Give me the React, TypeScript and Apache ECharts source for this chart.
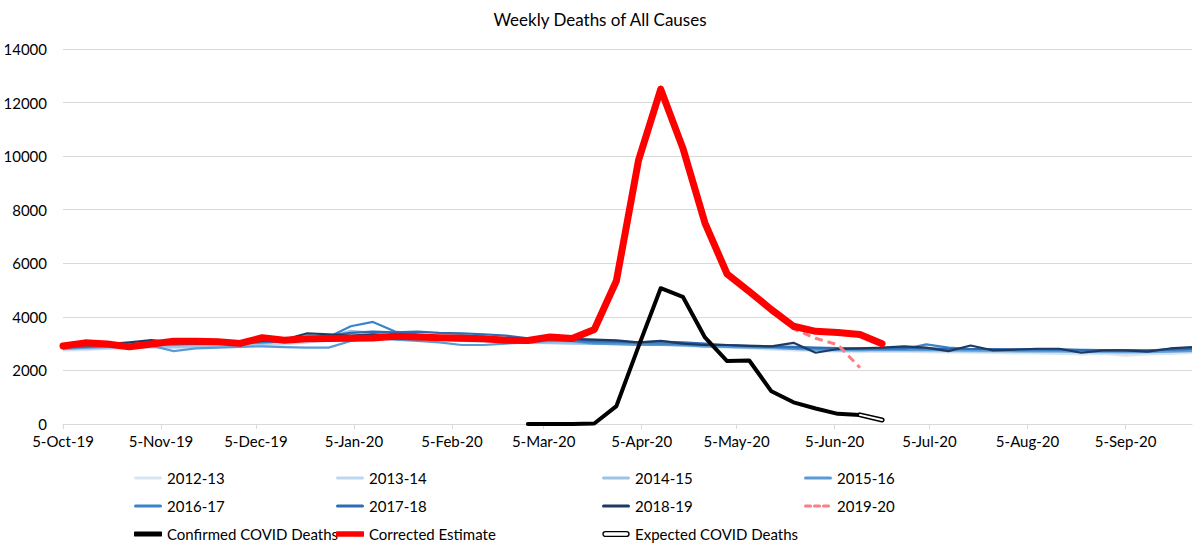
import React, { useEffect, useRef } from "react";
import * as echarts from "echarts";

// ---- axis metadata ----
const monthTickDays = [0, 31, 61, 92, 123, 152, 183, 213, 244, 274, 305, 336];
const monthTickLabels = [
  "5-Oct-19", "5-Nov-19", "5-Dec-19", "5-Jan-20", "5-Feb-20", "5-Mar-20",
  "5-Apr-20", "5-May-20", "5-Jun-20", "5-Jul-20", "5-Aug-20", "5-Sep-20",
];
const lastWeekDay = 357; // week ending 26-Sep-20
const yMin = 0;
const yMax = 14000;
const yStep = 2000;

// ---- series values (weekly, weeks ending Saturday from 5-Oct) ----
const s201213 = [
  2750, 2760, 2800, 2820, 2850, 2840, 2870, 2880, 2900, 2950, 3000, 3050, 3150,
  3400, 3450, 3350, 3250, 3200, 3150, 3100, 3080, 3050, 3050, 3020, 3000, 2980,
  2960, 2950, 2920, 2880, 2850, 2820, 2780, 2750, 2720, 2700, 2680, 2700, 2690,
  2680, 2670, 2660, 2650, 2640, 2640, 2620, 2600, 2620, 2550, 2600, 2620, 2650,
];
const s201314 = [
  2780, 2800, 2820, 2850, 2870, 2860, 2880, 2900, 2920, 2950, 2980, 3050, 3120,
  3250, 3300, 3250, 3200, 3180, 3150, 3120, 3100, 3080, 3060, 3050, 3020, 3000,
  2980, 2960, 2930, 2900, 2870, 2850, 2820, 2800, 2780, 2750, 2720, 2740, 2730,
  2720, 2710, 2700, 2690, 2700, 2680, 2680, 2660, 2670, 2640, 2660, 2680, 2700,
];
const s201415 = [
  2820, 2830, 2850, 2870, 2880, 2890, 2900, 2920, 2950, 3000, 3080, 3150, 3250,
  3480, 3400, 3300, 3200, 3150, 3100, 3080, 3050, 3030, 3020, 3000, 2990, 2980,
  2970, 2950, 2930, 2900, 2880, 2850, 2830, 2800, 2780, 2760, 2740, 2760, 2750,
  2740, 2730, 2720, 2720, 2710, 2700, 2700, 2690, 2680, 2660, 2680, 2700, 2720,
];
const s201516 = [
  2800, 2850, 2880, 2900, 2920, 2720, 2820, 2850, 2880, 2900, 2870, 2850, 2850,
  3100, 3200, 3150, 3100, 3050, 2950, 2950, 3000, 3050, 3100, 3080, 3000, 2980,
  2950, 2960, 2940, 2900, 2880, 2860, 2850, 2800, 2780, 2760, 2760, 2780, 2770,
  2780, 2760, 2750, 2740, 2720, 2730, 2720, 2700, 2710, 2700, 2690, 2710, 2730,
];
const s201617 = [
  2850, 2880, 2900, 2950, 2980, 2960, 2980, 2990, 3000, 3050, 3080, 3150, 3250,
  3650, 3810, 3450, 3350, 3280, 3250, 3200, 3180, 3150, 3120, 3100, 3050, 3050,
  3020, 3000, 2980, 2950, 2930, 2900, 2880, 2850, 2820, 2800, 2800, 2810, 2800,
  2970, 2850, 2800, 2790, 2780, 2780, 2770, 2760, 2750, 2740, 2750, 2780, 2800,
];
const s201718 = [
  2880, 2900, 2930, 2960, 3000, 2980, 3000, 3020, 3050, 3080, 3100, 3200, 3300,
  3400, 3450, 3420, 3450, 3400, 3380, 3350, 3300, 3200, 3150, 3150, 3100, 3080,
  3050, 3080, 3050, 3000, 2950, 2920, 2900, 2880, 2850, 2830, 2820, 2830, 2840,
  2820, 2810, 2800, 2800, 2780, 2790, 2790, 2770, 2760, 2760, 2750, 2780, 2800,
];
const s201819 = [
  2900, 2950, 2980, 3050, 3130, 3050, 3000, 3030, 3050, 3100, 3150, 3380, 3350,
  3300, 3350, 3300, 3250, 3280, 3300, 3250, 3200, 3150, 3250, 3180, 3150, 3120,
  3050, 3100, 3000, 2950, 2950, 2920, 2900, 3030, 2660, 2800, 2820, 2850, 2900,
  2850, 2720, 2930, 2750, 2780, 2810, 2810, 2660, 2750, 2750, 2700, 2820, 2870,
];
const s201920 = [
  2910, 3030, 2990, 2880, 2990, 3090, 3090, 3070, 3010, 3220, 3130, 3180, 3190,
  3200, 3210, 3280, 3250, 3220, 3200, 3180, 3130, 3120, 3250, 3190, 3530, 5350,
  9850, 12500, 10300, 7500, 5600, 4950, 4200, 3550, 3200, 2960, 2100,
];
const correctedEstimate = [
  2910, 3030, 2990, 2880, 2990, 3090, 3090, 3070, 3010, 3220, 3130, 3180, 3190,
  3200, 3210, 3280, 3250, 3220, 3200, 3180, 3130, 3120, 3250, 3190, 3530, 5350,
  9850, 12500, 10300, 7500, 5600, 4950, 4270, 3650, 3460, 3420, 3340, 3000,
];
const confirmedStartWeek = 21;
const confirmedCovid = [0, 0, 0, 20, 670, 2900, 5070, 4750, 3230, 2350, 2370, 1220, 810, 580, 380, 340];
const expectedStartWeek = 36;
const expectedCovid = [340, 150];

const FONT = "Lato, 'Open Sans', 'DejaVu Sans', sans-serif";

const toPoints = (vals: number[], startWeek = 0) =>
  vals.map((v, i) => [(startWeek + i) * 7, v]);

function lineIcon(color: string, width: number, dash?: string) {
  const svg = `<svg xmlns="http://www.w3.org/2000/svg" width="28" height="14" viewBox="0 0 28 14"><line x1="1.5" y1="7" x2="26.5" y2="7" stroke="${color}" stroke-width="${width}" stroke-linecap="round"${dash ? ` stroke-dasharray="${dash}"` : ""}/></svg>`;
  return "image://data:image/svg+xml;charset=utf-8," + encodeURIComponent(svg);
}
function outlineIcon() {
  const svg = `<svg xmlns="http://www.w3.org/2000/svg" width="28" height="14" viewBox="0 0 28 14"><rect x="1" y="4.6" width="26" height="4.8" rx="2.4" fill="#ffffff" stroke="#000000" stroke-width="1.4"/></svg>`;
  return "image://data:image/svg+xml;charset=utf-8," + encodeURIComponent(svg);
}

const blueDefs = [
  { name: "2012-13", data: s201213, color: "#dae5f3" },
  { name: "2013-14", data: s201314, color: "#bdd7ee" },
  { name: "2014-15", data: s201415, color: "#9dc3e6" },
  { name: "2015-16", data: s201516, color: "#5b9bd5" },
  { name: "2016-17", data: s201617, color: "#3b84c9" },
  { name: "2017-18", data: s201718, color: "#2e6db4" },
  { name: "2018-19", data: s201819, color: "#1f3a62" },
];

export default function App() {
  const ref = useRef<HTMLDivElement>(null);
  useEffect(() => {
    if (!ref.current) return;
    const chart = echarts.init(ref.current, null, { renderer: "svg" });

    const iconFor: Record<string, string> = {};
    blueDefs.forEach((b) => (iconFor[b.name] = lineIcon(b.color, 3)));
    iconFor["2019-20"] = lineIcon("#ff7c80", 3, "5 4");
    iconFor["Confirmed COVID Deaths"] = lineIcon("#000000", 5);
    iconFor["Corrected Estimate"] = lineIcon("#ff0000", 5.5);
    iconFor["Expected COVID Deaths"] = outlineIcon();

    const columns = [
      { left: 134, names: ["2012-13", "2016-17", "Confirmed COVID Deaths"] },
      { left: 336, names: ["2013-14", "2017-18", "Corrected Estimate"] },
      { left: 602, names: ["2014-15", "2018-19", "Expected COVID Deaths"] },
      { left: 804, names: ["2015-16", "2019-20"] },
    ];

    const legends = columns.map((c) => ({
      orient: "vertical",
      left: c.left,
      top: 469,
      padding: 0,
      itemWidth: 28,
      itemHeight: 14,
      itemGap: 10,
      selectedMode: false,
      textStyle: { fontFamily: FONT, fontSize: 15, color: "#000", lineHeight: 18 },
      data: c.names.map((n) => ({ name: n, icon: iconFor[n] })),
    }));

    const series: any[] = [
      ...blueDefs.map((b) => ({
        name: b.name,
        type: "line",
        data: toPoints(b.data),
        symbol: "none",
        lineStyle: { color: b.color, width: 2.2, join: "round" },
        itemStyle: { color: b.color },
      })),
      {
        name: "2019-20",
        type: "line",
        data: toPoints(s201920),
        symbol: "none",
        lineStyle: { color: "#ff7c80", width: 3, type: [8, 5] },
        itemStyle: { color: "#ff7c80" },
      },
      {
        name: "Confirmed COVID Deaths",
        type: "line",
        data: toPoints(confirmedCovid, confirmedStartWeek),
        symbol: "none",
        lineStyle: { color: "#000", width: 4, join: "round", cap: "round" },
        itemStyle: { color: "#000" },
      },
      {
        name: "Corrected Estimate",
        type: "line",
        data: toPoints(correctedEstimate),
        symbol: "none",
        lineStyle: { color: "#ff0000", width: 7, join: "round", cap: "round" },
        itemStyle: { color: "#ff0000" },
      },
      {
        name: "Expected COVID Deaths",
        type: "line",
        data: toPoints(expectedCovid, expectedStartWeek),
        symbol: "none",
        lineStyle: { color: "#000", width: 5, cap: "round" },
        itemStyle: { color: "#000" },
      },
      {
        name: "Expected COVID Deaths inner",
        type: "line",
        data: toPoints(expectedCovid, expectedStartWeek),
        symbol: "none",
        lineStyle: { color: "#fff", width: 2, cap: "round" },
        itemStyle: { color: "#fff" },
      },
    ];

    chart.setOption({
      animation: false,
      backgroundColor: "#fff",
      textStyle: { fontFamily: FONT },
      title: {
        text: "Weekly Deaths of All Causes",
        left: "center",
        top: 6,
        textStyle: { fontFamily: FONT, fontSize: 17, fontWeight: "normal", color: "#000" },
      },
      legend: legends,
      grid: { left: 63, right: 8, top: 49, bottom: 121, outerBoundsMode: "none", containLabel: false },
      xAxis: {
        type: "value",
        min: 0,
        max: lastWeekDay,
        axisLine: { show: true, lineStyle: { color: "#d9d9d9", width: 1 } },
        axisTick: { show: true, customValues: monthTickDays, length: 5, lineStyle: { color: "#d9d9d9" } },
        splitLine: { show: false },
        axisLabel: {
          customValues: monthTickDays,
          fontFamily: FONT,
          fontSize: 15,
          color: "#000",
          margin: 9,
          formatter: (v: number) => {
            const idx = monthTickDays.indexOf(v);
            return idx >= 0 ? monthTickLabels[idx] : "";
          },
        },
      },
      yAxis: {
        type: "value",
        min: yMin,
        max: yMax,
        interval: yStep,
        axisLine: { show: false },
        axisTick: { show: false },
        splitLine: { lineStyle: { color: "#d9d9d9", width: 1 } },
        axisLabel: {
          fontFamily: FONT,
          fontSize: 15,
          color: "#000",
          margin: 16,
          formatter: (v: number) => String(v),
        },
      },
      series,
    });

    return () => chart.dispose();
  }, []);

  return (
    <div
      ref={ref}
      style={{ position: "fixed", left: 0, top: 0, width: 1200, height: 545, background: "#fff" }}
    />
  );
}
